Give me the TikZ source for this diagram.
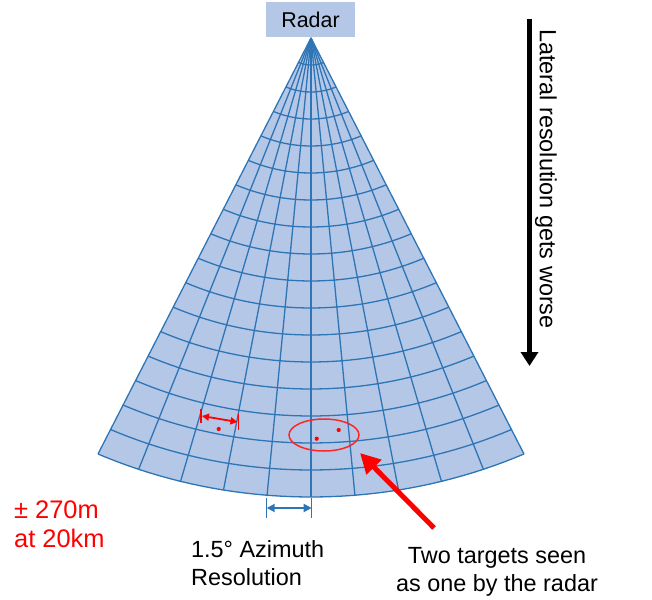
\documentclass[tikz,border=0pt]{standalone}
\usepackage{fontspec}
\setmainfont{Liberation Sans}
\usetikzlibrary{arrows.meta}
\definecolor{fanfill}{HTML}{B4C7E7}
\definecolor{fanline}{HTML}{2E75B6}

\begin{document}
\begin{tikzpicture}[x=1bp, y=-1bp,
  txt/.style={font=\fontsize{23.5}{28}\selectfont, inner sep=0pt},
  gridline/.style={draw=fanline, line width=1.3bp},
  redarrow/.style={{Triangle[length=7bp, width=7bp]}-{Triangle[length=7bp, width=7bp]}, line width=1.8bp, red},
  bluearrow/.style={{Triangle[length=8bp, width=8bp]}-{Triangle[length=8bp, width=8bp]}, line width=1.8bp, fanline},
  pointer/.style={-{Triangle[length=20bp, width=20bp]}, line width=5bp, red},
  tick/.style={line width=1.3bp}
]
  \useasboundingbox (0,0) rectangle (652,600);

  % Fan
  \coordinate (apex) at (311,38);
  \begin{scope}[shift={(apex)}]
    \fill[fanfill] (0,0) -- plot[domain=-25:25, samples=41] ({1.098*459*sin(\x)}, {459*cos(\x)}) -- cycle;
    \foreach \r in {1,...,17}
      \draw[gridline] plot[domain=-25:25, samples=41] ({1.098*27*\r*sin(\x)}, {27*\r*cos(\x)});
    \foreach \a in {-25,-20,...,25}
      \draw[gridline] (0,0) -- ({1.098*459*sin(\a)}, {459*cos(\a)});
  \end{scope}

  % Radar
  \node[txt, font=\fontsize{21.5}{26}\selectfont, fill=fanfill, minimum width=89bp, minimum height=35bp] (radar) at (310.5,19.5) {Radar};

  % Lateral resolution
  \coordinate (worsetop) at (529.5,19);
  \coordinate (worsebot) at (529.5,366);
  \draw[line width=4.5bp, -{Triangle[length=14bp, width=17bp]}] (worsetop) -- (worsebot);
  \node[txt, rotate=-90] (worse) at (546,179) {Lateral resolution gets worse};

  % Two targets in one beam
  \draw[red!85!white, line width=1.5bp] (324,435) ellipse [x radius=35, y radius=16];
  \fill[red] (316.7,438.7) circle (2.1bp) (338.7,430) circle (2.1bp);
  \coordinate (tail) at (434,528);
  \coordinate (head) at (360,453);
  \draw[pointer] (tail) -- (head);

  % Beam width at one range
  \fill[red] (218.7,429) circle (2.1bp);
  \coordinate (bwl) at (202,416);
  \coordinate (bwr) at (237.5,422);
  \draw[red, tick] (201,409) -- (201,423) (238.5,414) -- (238.5,430);
  \draw[redarrow] (bwl) -- (bwr);

  % Azimuth resolution
  \coordinate (azl) at (266.7,508);
  \coordinate (azr) at (311.7,508);
  \draw[fanline, tick] (266.7,498) -- (266.7,518) (311.7,498) -- (311.7,518);
  \draw[bluearrow] (azl) -- (azr);

  % Labels
  \node[txt, font=\fontsize{25.5}{29}\selectfont, red, align=left, anchor=north west] (range) at (14,501) {± 270m\\at 20km};
  \node[txt, align=left, anchor=north west] (azimuth) at (191,540) {1.5° Azimuth\\Resolution};
  \node[txt, align=center, anchor=north] (targets) at (497,547.5) {Two targets seen\\as one by the radar};
\end{tikzpicture}
\end{document}
